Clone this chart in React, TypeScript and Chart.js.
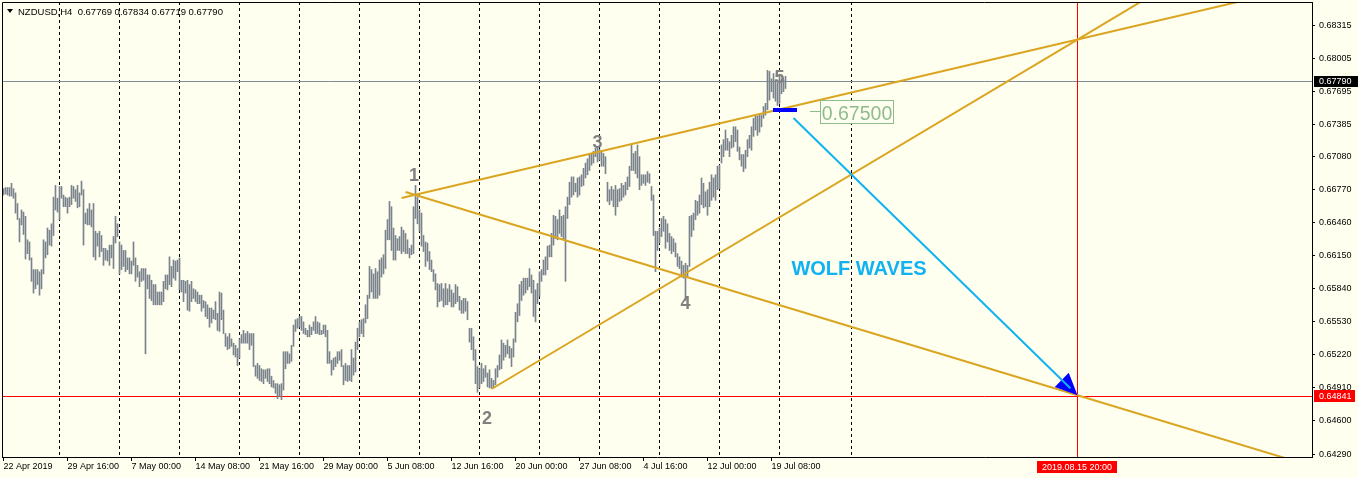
import { useEffect, useRef } from 'react';
import { Chart, registerables } from 'chart.js';

Chart.register(...registerables);

// ---- quote header ----
const symbolName = 'NZDUSD,H4';
const lastBarQuote = ['0.67769', '0.67834', '0.67719', '0.67790']; // open, high, low, close

// ---- H4 bars (high / low), one entry per bar from 22 Apr 2019 ----
const barHigh: number[] = [
  0.6678, 0.6679, 0.6679, 0.6679, 0.6683, 0.6678, 0.6674, 0.6664, 0.6650, 0.6658, 0.6656, 0.6652, 0.6630, 0.6628, 0.6613, 0.6602, 0.6602, 0.6602, 0.6600, 0.6602,
  0.6630, 0.6628, 0.6641, 0.6639, 0.6645, 0.6670, 0.6681, 0.6669, 0.6680, 0.6680, 0.6672, 0.6670, 0.6669, 0.6670, 0.6681, 0.6680, 0.6677, 0.6681, 0.6674, 0.6685,
  0.6677, 0.6655, 0.6659, 0.6664, 0.6658, 0.6664, 0.6638, 0.6636, 0.6638, 0.6634, 0.6622, 0.6622, 0.6620, 0.6625, 0.6625, 0.6633, 0.6652, 0.6645, 0.6628, 0.6625,
  0.6620, 0.6620, 0.6613, 0.6613, 0.6610, 0.6628, 0.6613, 0.6606, 0.6600, 0.6603, 0.6603, 0.6603, 0.6597, 0.6597, 0.6592, 0.6588, 0.6588, 0.6581, 0.6581, 0.6581,
  0.6591, 0.6597, 0.6597, 0.6614, 0.6605, 0.6611, 0.6610, 0.6611, 0.6613, 0.6592, 0.6592, 0.6591, 0.6592, 0.6588, 0.6591, 0.6584, 0.6583, 0.6581, 0.6578, 0.6578,
  0.6573, 0.6572, 0.6569, 0.6566, 0.6566, 0.6564, 0.6572, 0.6561, 0.6581, 0.6580, 0.6564, 0.6542, 0.6539, 0.6542, 0.6537, 0.6533, 0.6531, 0.6528, 0.6537, 0.6541,
  0.6545, 0.6542, 0.6544, 0.6542, 0.6542, 0.6542, 0.6512, 0.6514, 0.6512, 0.6509, 0.6508, 0.6508, 0.6509, 0.6509, 0.6502, 0.6498, 0.6495, 0.6495, 0.6494, 0.6495,
  0.6525, 0.6525, 0.6525, 0.6523, 0.6531, 0.6550, 0.6555, 0.6556, 0.6558, 0.6558, 0.6553, 0.6547, 0.6545, 0.6550, 0.6548, 0.6553, 0.6558, 0.6553, 0.6552, 0.6545,
  0.6550, 0.6550, 0.6545, 0.6525, 0.6517, 0.6519, 0.6520, 0.6525, 0.6525, 0.6527, 0.6512, 0.6514, 0.6512, 0.6512, 0.6527, 0.6519, 0.6534, 0.6547, 0.6553, 0.6555,
  0.6556, 0.6569, 0.6578, 0.6605, 0.6602, 0.6598, 0.6603, 0.6600, 0.6611, 0.6613, 0.6616, 0.6639, 0.6649, 0.6666, 0.6661, 0.6641, 0.6634, 0.6631, 0.6633, 0.6642,
  0.6639, 0.6636, 0.6630, 0.6622, 0.6625, 0.6661, 0.6681, 0.6670, 0.6658, 0.6655, 0.6634, 0.6628, 0.6627, 0.6619, 0.6611, 0.6602, 0.6598, 0.6589, 0.6588, 0.6589,
  0.6584, 0.6589, 0.6584, 0.6588, 0.6583, 0.6580, 0.6588, 0.6586, 0.6577, 0.6573, 0.6575, 0.6575, 0.6572, 0.6547, 0.6547, 0.6539, 0.6527, 0.6511, 0.6509, 0.6514,
  0.6509, 0.6512, 0.6505, 0.6508, 0.6500, 0.6498, 0.6509, 0.6512, 0.6522, 0.6536, 0.6533, 0.6531, 0.6536, 0.6530, 0.6528, 0.6537, 0.6562, 0.6570, 0.6588, 0.6591,
  0.6594, 0.6594, 0.6594, 0.6603, 0.6597, 0.6592, 0.6583, 0.6589, 0.6600, 0.6602, 0.6611, 0.6614, 0.6624, 0.6625, 0.6636, 0.6653, 0.6652, 0.6649, 0.6658, 0.6652,
  0.6653, 0.6661, 0.6670, 0.6684, 0.6689, 0.6689, 0.6683, 0.6688, 0.6689, 0.6691, 0.6697, 0.6702, 0.6706, 0.6710, 0.6711, 0.6713, 0.6716, 0.6717, 0.6715, 0.6713,
  0.6711, 0.6708, 0.6684, 0.6677, 0.6680, 0.6677, 0.6681, 0.6677, 0.6678, 0.6683, 0.6681, 0.6684, 0.6689, 0.6699, 0.6719, 0.6711, 0.6713, 0.6719, 0.6708, 0.6691,
  0.6691, 0.6691, 0.6694, 0.6692, 0.6680, 0.6672, 0.6638, 0.6638, 0.6641, 0.6650, 0.6652, 0.6649, 0.6645, 0.6636, 0.6633, 0.6631, 0.6627, 0.6617, 0.6614, 0.6610,
  0.6606, 0.6608, 0.6606, 0.6652, 0.6653, 0.6655, 0.6667, 0.6666, 0.6672, 0.6688, 0.6683, 0.6675, 0.6677, 0.6684, 0.6691, 0.6688, 0.6691, 0.6699, 0.6700, 0.6719,
  0.6724, 0.6733, 0.6725, 0.6722, 0.6728, 0.6736, 0.6736, 0.6733, 0.6717, 0.6710, 0.6710, 0.6714, 0.6724, 0.6728, 0.6736, 0.6744, 0.6747, 0.6746, 0.6747, 0.6747,
  0.6755, 0.6758, 0.6789, 0.6788, 0.6781, 0.6786, 0.6780, 0.6777, 0.6785, 0.6781, 0.6780, 0.67834,
];

const barLow: number[] = [
  0.6672, 0.6673, 0.6672, 0.6671, 0.6671, 0.6669, 0.6655, 0.6649, 0.6628, 0.6644, 0.6635, 0.6612, 0.6617, 0.6611, 0.6591, 0.6580, 0.6584, 0.6588, 0.6578, 0.6584,
  0.6598, 0.6613, 0.6616, 0.6625, 0.6624, 0.6634, 0.6658, 0.6656, 0.6649, 0.6669, 0.6661, 0.6661, 0.6655, 0.6661, 0.6663, 0.6669, 0.6666, 0.6660, 0.6661, 0.6672,
  0.6625, 0.6645, 0.6644, 0.6644, 0.6642, 0.6614, 0.6611, 0.6624, 0.6614, 0.6619, 0.6606, 0.6611, 0.6610, 0.6606, 0.6613, 0.6603, 0.6627, 0.6633, 0.6598, 0.6602,
  0.6605, 0.6600, 0.6602, 0.6598, 0.6598, 0.6606, 0.6591, 0.6595, 0.6586, 0.6591, 0.6592, 0.6523, 0.6584, 0.6575, 0.6573, 0.6569, 0.6569, 0.6569, 0.6569, 0.6569,
  0.6572, 0.6584, 0.6583, 0.6588, 0.6586, 0.6594, 0.6592, 0.6600, 0.6583, 0.6581, 0.6572, 0.6580, 0.6564, 0.6563, 0.6572, 0.6575, 0.6572, 0.6570, 0.6570, 0.6563,
  0.6566, 0.6558, 0.6556, 0.6548, 0.6552, 0.6556, 0.6555, 0.6545, 0.6544, 0.6555, 0.6542, 0.6530, 0.6527, 0.6528, 0.6530, 0.6522, 0.6520, 0.6512, 0.6519, 0.6533,
  0.6533, 0.6533, 0.6533, 0.6527, 0.6531, 0.6511, 0.6502, 0.6500, 0.6498, 0.6497, 0.6495, 0.6500, 0.6497, 0.6495, 0.6492, 0.6491, 0.6486, 0.6481, 0.6483, 0.6480,
  0.6489, 0.6509, 0.6514, 0.6514, 0.6516, 0.6530, 0.6544, 0.6547, 0.6548, 0.6545, 0.6542, 0.6541, 0.6539, 0.6539, 0.6541, 0.6545, 0.6542, 0.6542, 0.6541, 0.6541,
  0.6542, 0.6539, 0.6514, 0.6514, 0.6503, 0.6508, 0.6511, 0.6514, 0.6517, 0.6511, 0.6494, 0.6498, 0.6497, 0.6498, 0.6497, 0.6503, 0.6506, 0.6527, 0.6539, 0.6542,
  0.6539, 0.6552, 0.6556, 0.6575, 0.6581, 0.6575, 0.6575, 0.6575, 0.6578, 0.6595, 0.6598, 0.6603, 0.6630, 0.6630, 0.6620, 0.6611, 0.6611, 0.6620, 0.6620, 0.6617,
  0.6619, 0.6617, 0.6617, 0.6613, 0.6616, 0.6617, 0.6650, 0.6645, 0.6638, 0.6624, 0.6619, 0.6605, 0.6610, 0.6602, 0.6600, 0.6591, 0.6583, 0.6567, 0.6572, 0.6573,
  0.6567, 0.6569, 0.6569, 0.6572, 0.6567, 0.6567, 0.6570, 0.6572, 0.6564, 0.6561, 0.6561, 0.6563, 0.6555, 0.6534, 0.6527, 0.6517, 0.6495, 0.6487, 0.6491, 0.6495,
  0.6497, 0.6501, 0.6492, 0.6491, 0.6491, 0.6491, 0.6494, 0.6501, 0.6508, 0.6509, 0.6517, 0.6520, 0.6523, 0.6519, 0.6511, 0.6520, 0.6534, 0.6553, 0.6559, 0.6573,
  0.6578, 0.6580, 0.6583, 0.6586, 0.6580, 0.6558, 0.6553, 0.6570, 0.6577, 0.6591, 0.6597, 0.6597, 0.6602, 0.6614, 0.6614, 0.6625, 0.6631, 0.6630, 0.6636, 0.6633,
  0.6631, 0.6591, 0.6650, 0.6663, 0.6670, 0.6672, 0.6675, 0.6670, 0.6672, 0.6680, 0.6681, 0.6688, 0.6691, 0.6695, 0.6700, 0.6702, 0.6708, 0.6703, 0.6705, 0.6699,
  0.6699, 0.6692, 0.6666, 0.6663, 0.6667, 0.6661, 0.6653, 0.6661, 0.6666, 0.6667, 0.6670, 0.6672, 0.6677, 0.6680, 0.6695, 0.6695, 0.6692, 0.6688, 0.6677, 0.6681,
  0.6683, 0.6681, 0.6684, 0.6683, 0.6667, 0.6634, 0.6600, 0.6620, 0.6627, 0.6633, 0.6638, 0.6622, 0.6628, 0.6620, 0.6617, 0.6619, 0.6614, 0.6605, 0.6603, 0.6595,
  0.6594, 0.6573, 0.6595, 0.6605, 0.6633, 0.6639, 0.6649, 0.6653, 0.6655, 0.6663, 0.6660, 0.6661, 0.6653, 0.6661, 0.6667, 0.6670, 0.6667, 0.6677, 0.6678, 0.6702,
  0.6708, 0.6714, 0.6714, 0.6708, 0.6716, 0.6717, 0.6722, 0.6713, 0.6705, 0.6699, 0.6694, 0.6697, 0.6708, 0.6716, 0.6714, 0.6727, 0.6733, 0.6728, 0.6731, 0.6736,
  0.6744, 0.6747, 0.6752, 0.6761, 0.6769, 0.6763, 0.6760, 0.6756, 0.6758, 0.6767, 0.6769, 0.67719,
];

// ---- time axis ----
const timeLabelBars = [0, 32, 64, 96, 128, 160, 192, 224, 256, 288, 320, 352, 384];
const timeLabels = [
  '22 Apr 2019', '29 Apr 16:00', '7 May 00:00', '14 May 08:00', '21 May 16:00', '29 May 00:00', '5 Jun 08:00',
  '12 Jun 16:00', '20 Jun 00:00', '27 Jun 08:00', '4 Jul 16:00', '12 Jul 00:00', '19 Jul 08:00',
];
const weekStartBars = [28, 58, 88, 118, 148, 178, 208, 238, 268, 298, 328, 358, 388, 424];

// ---- price axis ----
const priceTicks = [
  0.68315, 0.68005, 0.67695, 0.67385, 0.6708, 0.6677, 0.6646,
  0.6615, 0.6584, 0.6553, 0.6522, 0.6491, 0.646, 0.6429,
];

// ---- Wolf Wave construction ----
const bidPrice = 0.6779;
const targetPrice = 0.64841;
const targetBar = 537;
const targetTime = '2019.08.15 20:00';

const line13 = [[199, 0.66692], [537, 0.68179]]; // points 1 -> 3
const line14 = [[201, 0.66748], [537, 0.64841]]; // points 1 -> 4, target line
const line24 = [[244, 0.649], [537, 0.68179]]; // points 2 -> 4
const arrowFrom = [395, 0.67443];
const arrowTo = [537, 0.64841];

const entryPrice = 0.675;
const entryFromBar = 385;
const entryToBar = 397;

const waveNames = ['1', '2', '3', '4', '5'];
const waveBars = [205.25, 241.75, 297, 341, 388];
const wavePrices = [0.66908, 0.64628, 0.67222, 0.65707, 0.67832];

const captionText = 'WOLF WAVES';
const captionBar = 427.75;
const captionPrice = 0.6604;

// ---- view ----
const X_MIN = -0.75;
const X_MAX = 654.25;
const Y_MIN = 0.64262;
const Y_MAX = 0.68531;

const BG = '#FFFFF0';
const BAR_COLOR = '#7a828c';
const TREND_COLOR = '#DAA520';
const ARROW_COLOR = '#10B2F2';
const FONT = "'Liberation Sans', Arial, sans-serif";

function ray(a: number[], b: number[], xEnd: number) {
  const slope = (b[1] - a[1]) / (b[0] - a[0]);
  return [
    { x: a[0], y: a[1] },
    { x: b[0], y: b[1] },
    { x: xEnd, y: b[1] + slope * (xEnd - b[0]) },
  ];
}

function trendDataset(a: number[], b: number[]) {
  return {
    type: 'line' as const,
    data: ray(a, b, X_MAX),
    borderColor: TREND_COLOR,
    borderWidth: 2,
    pointRadius: 0,
    tension: 0,
    fill: false,
    clip: 0,
    order: 0,
  };
}

const overlay = {
  id: 'wolfOverlay',
  beforeDraw(chart: any) {
    const { ctx, width, height } = chart;
    ctx.save();
    ctx.fillStyle = BG;
    ctx.fillRect(0, 0, width, height);
    ctx.restore();
  },
  beforeDatasetsDraw(chart: any) {
    const { ctx, chartArea: a } = chart;
    const xs = chart.scales.x;
    const ys = chart.scales.y;
    ctx.save();
    ctx.beginPath();
    ctx.rect(a.left, a.top, a.right - a.left, a.bottom - a.top);
    ctx.clip();

    // weekly separators
    ctx.strokeStyle = '#000';
    ctx.lineWidth = 1;
    ctx.setLineDash([3, 3]);
    for (const b of weekStartBars) {
      const px = Math.floor(xs.getPixelForValue(b)) + 0.5;
      ctx.beginPath();
      ctx.moveTo(px, a.top);
      ctx.lineTo(px, a.bottom);
      ctx.stroke();
    }
    ctx.setLineDash([]);

    // bid line
    const yb = Math.ceil(ys.getPixelForValue(bidPrice)) + 0.5;
    ctx.strokeStyle = '#7f8a96';
    ctx.beginPath();
    ctx.moveTo(a.left, yb);
    ctx.lineTo(a.right, yb);
    ctx.stroke();

    // target price / time
    ctx.strokeStyle = '#FF0000';
    const yt = Math.ceil(ys.getPixelForValue(targetPrice)) + 0.5;
    ctx.beginPath();
    ctx.moveTo(a.left, yt);
    ctx.lineTo(a.right, yt);
    ctx.stroke();
    const xt = Math.floor(xs.getPixelForValue(targetBar)) + 0.5;
    ctx.beginPath();
    ctx.moveTo(xt, a.top);
    ctx.lineTo(xt, a.bottom);
    ctx.stroke();
    ctx.restore();
  },
  afterDatasetsDraw(chart: any) {
    const { ctx, chartArea: a } = chart;
    const xs = chart.scales.x;
    const ys = chart.scales.y;
    const X = (v: number) => xs.getPixelForValue(v);
    const Y = (v: number) => ys.getPixelForValue(v);
    ctx.save();
    ctx.beginPath();
    ctx.rect(a.left, a.top, a.right - a.left, a.bottom - a.top);
    ctx.clip();

    // arrow towards the target
    const p0x = X(arrowFrom[0]);
    const p0y = Y(arrowFrom[1]);
    const p1x = X(arrowTo[0]);
    const p1y = Y(arrowTo[1]);
    const len = Math.hypot(p1x - p0x, p1y - p0y);
    const ux = (p1x - p0x) / len;
    const uy = (p1y - p0y) / len;
    const headLen = 22;
    const headHalf = 10;
    const bx = p1x - ux * headLen;
    const by = p1y - uy * headLen;
    ctx.fillStyle = '#0000FF';
    ctx.beginPath();
    ctx.moveTo(p1x, p1y);
    ctx.lineTo(bx - uy * headHalf, by + ux * headHalf);
    ctx.lineTo(bx + uy * headHalf, by - ux * headHalf);
    ctx.closePath();
    ctx.fill();
    ctx.strokeStyle = ARROW_COLOR;
    ctx.lineWidth = 2;
    ctx.beginPath();
    ctx.moveTo(p0x, p0y);
    ctx.lineTo(p1x - ux * 10, p1y - uy * 10);
    ctx.stroke();

    // entry marker and price label
    const ye = Math.round(Y(entryPrice));
    const xe0 = Math.floor(X(entryFromBar));
    const xe1 = Math.floor(X(entryToBar));
    ctx.fillStyle = '#0000FF';
    ctx.fillRect(xe0, ye - 4, xe1 - xe0, 4);
    ctx.strokeStyle = '#8FBC8F';
    ctx.lineWidth = 1;
    ctx.beginPath();
    ctx.moveTo(xe1 + 13, ye - 0.5);
    ctx.lineTo(xe1 + 23, ye - 0.5);
    ctx.stroke();
    const boxX = xe1 + 23.5;
    const boxW = 73;
    const boxH = 23;
    ctx.fillStyle = BG;
    ctx.fillRect(boxX, ye - 11.5, boxW, boxH);
    ctx.strokeRect(boxX, ye - 11.5, boxW, boxH);
    ctx.fillStyle = '#8FBC8F';
    ctx.font = `19.5px ${FONT}`;
    ctx.textAlign = 'center';
    ctx.textBaseline = 'alphabetic';
    ctx.fillText(entryPrice.toFixed(5), boxX + boxW / 2, ye + 8);

    // wave point numbers
    ctx.fillStyle = '#808080';
    ctx.font = `bold 18px ${FONT}`;
    waveNames.forEach((n, k) => {
      ctx.fillText(n, X(waveBars[k]), Y(wavePrices[k]) + 6.5);
    });

    // caption
    ctx.fillStyle = ARROW_COLOR;
    ctx.font = `bold 20px ${FONT}`;
    ctx.fillText(captionText, X(captionBar), Y(captionPrice) + 7.5);
    ctx.restore();
  },
  afterDraw(chart: any) {
    const { ctx, chartArea: a } = chart;
    const xs = chart.scales.x;
    const ys = chart.scales.y;
    ctx.save();

    // frame (left and top edges)
    ctx.strokeStyle = '#000';
    ctx.lineWidth = 1;
    ctx.beginPath();
    ctx.moveTo(a.left + 0.5, a.bottom);
    ctx.lineTo(a.left + 0.5, a.top + 0.5);
    ctx.lineTo(a.right, a.top + 0.5);
    ctx.stroke();

    // header
    ctx.fillStyle = '#000';
    ctx.beginPath();
    ctx.moveTo(7, 9);
    ctx.lineTo(13, 9);
    ctx.lineTo(10, 13);
    ctx.closePath();
    ctx.fill();
    ctx.font = `9.5px ${FONT}`;
    ctx.textAlign = 'left';
    ctx.textBaseline = 'alphabetic';
    ctx.fillText(`${symbolName}  ${lastBarQuote.join(' ')}`, 18, 15);

    // price tags on the axis
    ctx.font = `9px ${FONT}`;
    ctx.textBaseline = 'middle';
    const yb = Math.ceil(ys.getPixelForValue(bidPrice));
    ctx.fillStyle = '#000';
    ctx.fillRect(a.right + 2, yb - 5, 46, 11);
    ctx.fillStyle = '#FFF';
    ctx.fillText(bidPrice.toFixed(5), a.right + 7, yb + 0.5);

    const yt = Math.ceil(ys.getPixelForValue(targetPrice));
    ctx.fillStyle = '#FF0000';
    ctx.fillRect(a.right + 2, yt - 6, 41, 12);
    ctx.fillStyle = '#FFF';
    ctx.fillText(targetPrice.toFixed(5), a.right + 7, yt + 0.5);

    // time tag
    const xt = Math.floor(xs.getPixelForValue(targetBar));
    ctx.fillStyle = '#FF0000';
    ctx.fillRect(xt - 40, a.bottom + 4, 80, 12);
    ctx.fillStyle = '#FFF';
    ctx.textAlign = 'center';
    ctx.fillText(targetTime, xt, a.bottom + 10.5);
    ctx.restore();
  },
};

export default function App() {
  const canvasRef = useRef<HTMLCanvasElement>(null);

  useEffect(() => {
    document.body.style.margin = '0';
    const canvas = canvasRef.current;
    if (!canvas) return;

    const bars = barHigh.map((h, i) => ({ x: i, y: [barLow[i], h] }));

    const chart = new Chart(canvas, {
      type: 'bar',
      data: {
        datasets: [
          trendDataset(line13[0], line13[1]),
          trendDataset(line14[0], line14[1]),
          trendDataset(line24[0], line24[1]),
          {
            type: 'bar',
            data: bars as any,
            backgroundColor: BAR_COLOR,
            borderWidth: 0,
            barThickness: 1,
            order: 10,
          } as any,
        ],
      },
      options: {
        responsive: false,
        animation: false,
        devicePixelRatio: 1,
        events: [],
        layout: { padding: { left: 2, top: 2, right: 0, bottom: 0 } },
        plugins: {
          legend: { display: false },
          tooltip: { enabled: false },
          title: { display: false },
        },
        scales: {
          x: {
            type: 'linear',
            position: 'bottom',
            min: X_MIN,
            max: X_MAX,
            offset: false,
            grid: { drawOnChartArea: false, drawTicks: true, tickLength: 4, color: '#000', offset: false },
            border: { display: true, color: '#000', width: 1 },
            ticks: {
              autoSkip: false,
              maxRotation: 0,
              minRotation: 0,
              align: 'start',
              padding: 0,
              color: '#000',
              font: { family: FONT, size: 9 },
              callback: (v: any) => {
                const k = timeLabelBars.indexOf(Number(v));
                return k < 0 ? '' : timeLabels[k];
              },
            },
            afterBuildTicks: (s: any) => {
              s.ticks = timeLabelBars.map((v) => ({ value: v }));
            },
            afterFit: (s: any) => {
              s.height = 21;
              s.paddingLeft = 0;
              s.paddingRight = 0;
            },
          },
          y: {
            type: 'linear',
            position: 'right',
            min: Y_MIN,
            max: Y_MAX,
            beginAtZero: false,
            grid: { drawOnChartArea: false, drawTicks: true, tickLength: 3, color: '#000' },
            border: { display: true, color: '#000', width: 1 },
            ticks: {
              padding: 4,
              color: '#000',
              font: { family: FONT, size: 9 },
              callback: (v: any) => Number(v).toFixed(5),
            },
            afterBuildTicks: (s: any) => {
              s.ticks = priceTicks.map((v) => ({ value: v }));
            },
            afterFit: (s: any) => {
              s.width = 46;
              s.paddingTop = 0;
              s.paddingBottom = 0;
            },
          },
        },
      } as any,
      plugins: [overlay],
    });

    return () => chart.destroy();
  }, []);

  return (
    <div style={{ position: 'absolute', left: 0, top: 0, width: 1358, height: 478 }}>
      <canvas ref={canvasRef} width={1358} height={478} style={{ display: 'block', width: 1358, height: 478 }} />
    </div>
  );
}
